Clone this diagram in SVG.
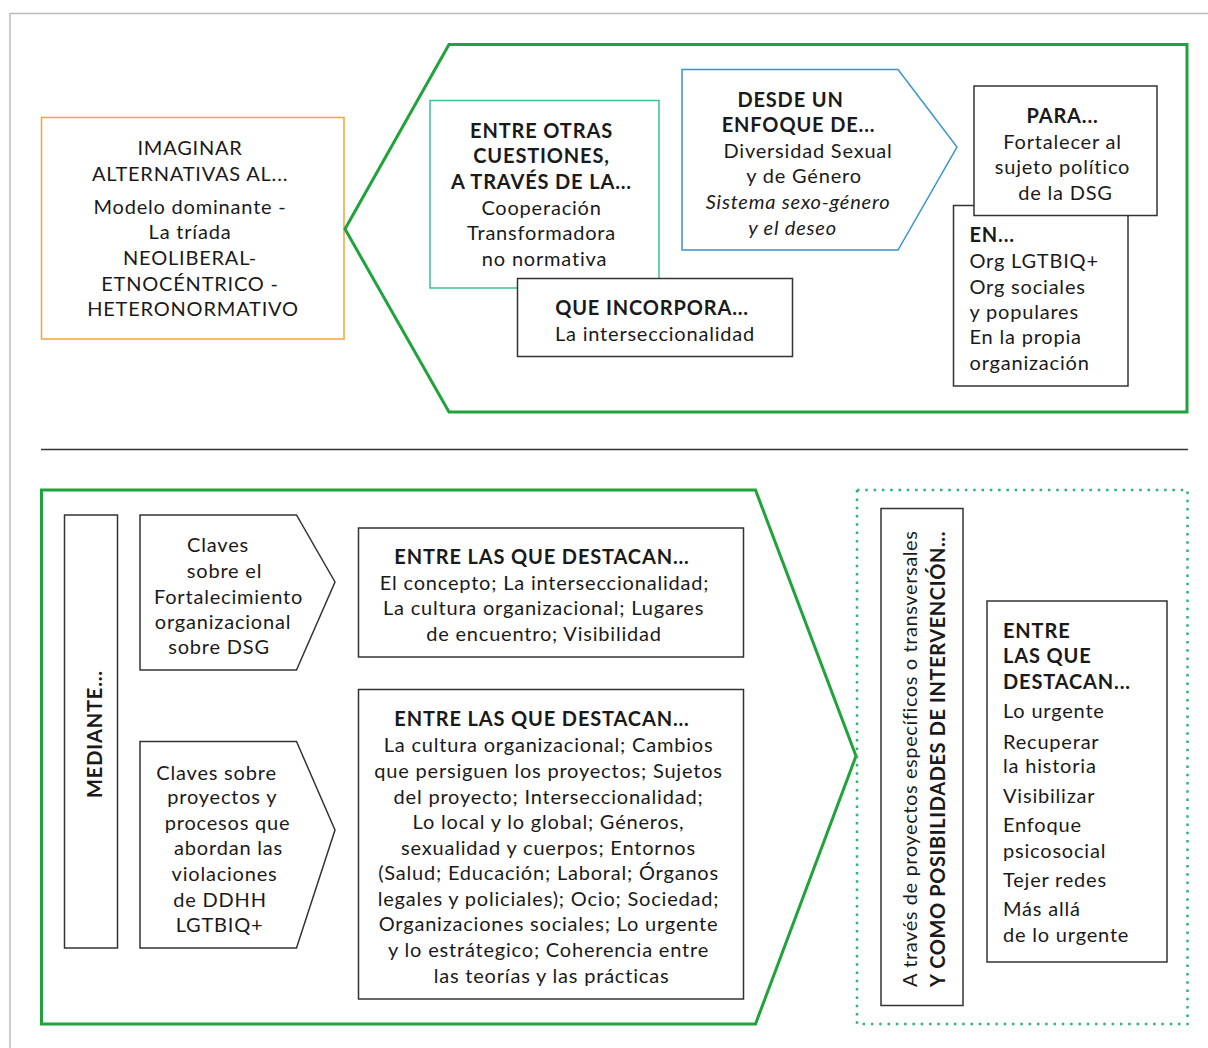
<svg xmlns="http://www.w3.org/2000/svg" width="1208" height="1048" viewBox="0 0 1208 1048">
  <style>
    .t { font-family: Lato, "Open Sans", "Liberation Sans", sans-serif; font-size: 20px; fill: #1a1a1a; letter-spacing: 0.8px; }
    .b { font-weight: 700; letter-spacing: 0.85px; }
    .i { font-style: italic; }
    .c { text-anchor: middle; }
    .v { letter-spacing: 0.6px; }
    .box { fill: #ffffff; stroke: #333333; stroke-width: 1.5; }
    .frame { fill: none; stroke: #1fa33a; stroke-width: 3; stroke-linejoin: miter; }
  </style>

  <!-- page frame -->
  <rect x="10" y="13.5" width="1230" height="1060" fill="#ffffff" stroke="#bdbdbd" stroke-width="1.5"/>

  <!-- upper section -->
  <g id="imaginar">
    <rect x="41.5" y="117.5" width="302.5" height="221.5" fill="#ffffff" stroke="#f5a33a" stroke-width="1.5"/>
    <text class="t c">
      <tspan x="193" y="155">IMAGINAR</tspan>
      <tspan x="193" y="181">ALTERNATIVAS AL...</tspan>
      <tspan x="193" y="214">Modelo dominante -</tspan>
      <tspan x="193" y="239">La tríada</tspan>
      <tspan x="193" y="265">NEOLIBERAL-</tspan>
      <tspan x="193" y="291">ETNOCÉNTRICO -</tspan>
      <tspan x="193" y="316">HETERONORMATIVO</tspan>
    </text>
  </g>

  <g id="marco-superior">
    <polygon class="frame" points="345,229 449,44.5 1187,44.5 1187,412 449,412"/>
  </g>

  <g id="entre-otras">
    <rect x="430" y="100.5" width="229" height="187.5" fill="#ffffff" stroke="#3dbf98" stroke-width="1.5"/>
    <text class="t c">
      <tspan class="b" x="544.5" y="138">ENTRE OTRAS</tspan>
      <tspan class="b" x="544.5" y="163">CUESTIONES,</tspan>
      <tspan class="b" x="544.5" y="188.5">A TRAVÉS DE LA...</tspan>
      <tspan x="544.5" y="215">Cooperación</tspan>
      <tspan x="544.5" y="240">Transformadora</tspan>
      <tspan x="544.5" y="266">no normativa</tspan>
    </text>
  </g>

  <g id="que-incorpora">
    <rect class="box" x="517.5" y="278.5" width="275" height="78"/>
    <text class="t c">
      <tspan class="b" x="655" y="315">QUE INCORPORA...</tspan>
      <tspan x="655" y="340.5">La interseccionalidad</tspan>
    </text>
  </g>

  <g id="enfoque">
    <polygon points="682,69.5 898,69.5 957,147 898,250 682,250" fill="#ffffff" stroke="#3a93cf" stroke-width="1.5"/>
    <text class="t c">
      <tspan class="b" x="793.5" y="106.5">DESDE UN</tspan>
      <tspan class="b" x="801.5" y="131.5">ENFOQUE DE...</tspan>
      <tspan x="811" y="157.5">Diversidad Sexual</tspan>
      <tspan x="807" y="182.5">y de Género</tspan>
      <tspan class="i" x="801" y="208.5">Sistema sexo-género</tspan>
      <tspan class="i" x="792.5" y="234.5">y el deseo</tspan>
    </text>
  </g>

  <g id="en">
    <rect class="box" x="953.5" y="205.5" width="174.5" height="180.5"/>
    <text class="t">
      <tspan class="b" x="969.5" y="242">EN...</tspan>
      <tspan x="969.5" y="267.5">Org LGTBIQ+</tspan>
      <tspan x="969.5" y="293.5">Org sociales</tspan>
      <tspan x="969.5" y="318.5">y populares</tspan>
      <tspan x="969.5" y="344">En la propia</tspan>
      <tspan x="969.5" y="370">organización</tspan>
    </text>
  </g>

  <g id="para">
    <rect class="box" x="974" y="86" width="183" height="129.5"/>
    <text class="t c">
      <tspan class="b" x="1065.5" y="122.5">PARA...</tspan>
      <tspan x="1065.5" y="149">Fortalecer al</tspan>
      <tspan x="1065.5" y="174">sujeto político</tspan>
      <tspan x="1065.5" y="199.5">de la DSG</tspan>
    </text>
  </g>

  <g id="connectors">
    <line x1="41" y1="449.5" x2="1188" y2="449.5" stroke="#333333" stroke-width="1.3"/>
  </g>

  <!-- lower section -->
  <g id="marco-inferior">
    <polygon class="frame" points="41.5,490 755.5,490 856,756 755.5,1024 41.5,1024"/>
  </g>

  <g id="mediante">
    <rect class="box" x="64.5" y="515" width="53" height="433"/>
    <text class="t b c" transform="translate(101.5 734) rotate(-90)" x="0" y="0">MEDIANTE...</text>
  </g>

  <g id="claves-fortalecimiento">
    <polygon class="box" points="140,515 296.5,515 335,582 296.5,670 140,670"/>
    <text class="t c">
      <tspan x="221" y="551.5">Claves</tspan>
      <tspan x="227.5" y="577.5">sobre el</tspan>
      <tspan x="231.5" y="603.5">Fortalecimiento</tspan>
      <tspan x="226" y="629">organizacional</tspan>
      <tspan x="219" y="653.5">sobre DSG</tspan>
    </text>
  </g>

  <g id="claves-proyectos">
    <polygon class="box" points="140,741.5 296.5,741.5 335,830 296.5,948 140,948"/>
    <text class="t c">
      <tspan x="219.5" y="779.5">Claves sobre</tspan>
      <tspan x="225" y="803.5">proyectos y</tspan>
      <tspan x="230.5" y="830">procesos que</tspan>
      <tspan x="231.5" y="855">abordan las</tspan>
      <tspan x="227.5" y="880.5">violaciones</tspan>
      <tspan x="223" y="906.5">de DDHH</tspan>
      <tspan x="219.5" y="931.5">LGTBIQ+</tspan>
    </text>
  </g>

  <g id="destacan-fortalecimiento">
    <rect class="box" x="358.5" y="528" width="385" height="129"/>
    <text class="t c">
      <tspan class="b" x="545" y="564">ENTRE LAS QUE DESTACAN...</tspan>
      <tspan x="547.5" y="589.5">El concepto; La interseccionalidad;</tspan>
      <tspan x="546.5" y="615">La cultura organizacional; Lugares</tspan>
      <tspan x="544" y="640.5">de encuentro; Visibilidad</tspan>
    </text>
  </g>

  <g id="destacan-proyectos">
    <rect class="box" x="358.5" y="689.5" width="385" height="309.5"/>
    <text class="t c">
      <tspan class="b" x="545" y="726">ENTRE LAS QUE DESTACAN...</tspan>
      <tspan x="551.5" y="752">La cultura organizacional; Cambios</tspan>
      <tspan x="551.5" y="778">que persiguen los proyectos; Sujetos</tspan>
      <tspan x="551.5" y="803.5">del proyecto; Interseccionalidad;</tspan>
      <tspan x="551.5" y="829">Lo local y lo global; Géneros,</tspan>
      <tspan x="551.5" y="854.5">sexualidad y cuerpos; Entornos</tspan>
      <tspan x="551.5" y="880">(Salud; Educación; Laboral; Órganos</tspan>
      <tspan x="551.5" y="905.5">legales y policiales); Ocio; Sociedad;</tspan>
      <tspan x="551.5" y="931">Organizaciones sociales; Lo urgente</tspan>
      <tspan x="551.5" y="956.5">y lo estrátegico; Coherencia entre</tspan>
      <tspan x="551.5" y="982.5">las teorías y las prácticas</tspan>
    </text>
  </g>

  <g id="intervencion">
    <rect x="857" y="490" width="330.5" height="534" fill="none" stroke="#2bb57b" stroke-width="2.5" stroke-dasharray="2.5 5.8"/>
    <rect class="box" x="881" y="508.5" width="82" height="497"/>
    <text class="t v" transform="translate(917 987) rotate(-90)" x="0" y="0">A través de proyectos específicos o transversales</text>
    <text class="t b v" transform="translate(945 987) rotate(-90)" x="0" y="0">Y COMO POSIBILIDADES DE INTERVENCIÓN...</text>
  </g>

  <g id="destacan-intervencion">
    <rect class="box" x="987" y="601" width="180" height="361"/>
    <text class="t">
      <tspan class="b" x="1003" y="637.5">ENTRE</tspan>
      <tspan class="b" x="1003" y="663">LAS QUE</tspan>
      <tspan class="b" x="1003" y="688.5">DESTACAN...</tspan>
      <tspan x="1003" y="718">Lo urgente</tspan>
      <tspan x="1003" y="748.5">Recuperar</tspan>
      <tspan x="1003" y="773">la historia</tspan>
      <tspan x="1003" y="803">Visibilizar</tspan>
      <tspan x="1003" y="832">Enfoque</tspan>
      <tspan x="1003" y="857.5">psicosocial</tspan>
      <tspan x="1003" y="887">Tejer redes</tspan>
      <tspan x="1003" y="916">Más allá</tspan>
      <tspan x="1003" y="942">de lo urgente</tspan>
    </text>
  </g>
</svg>
